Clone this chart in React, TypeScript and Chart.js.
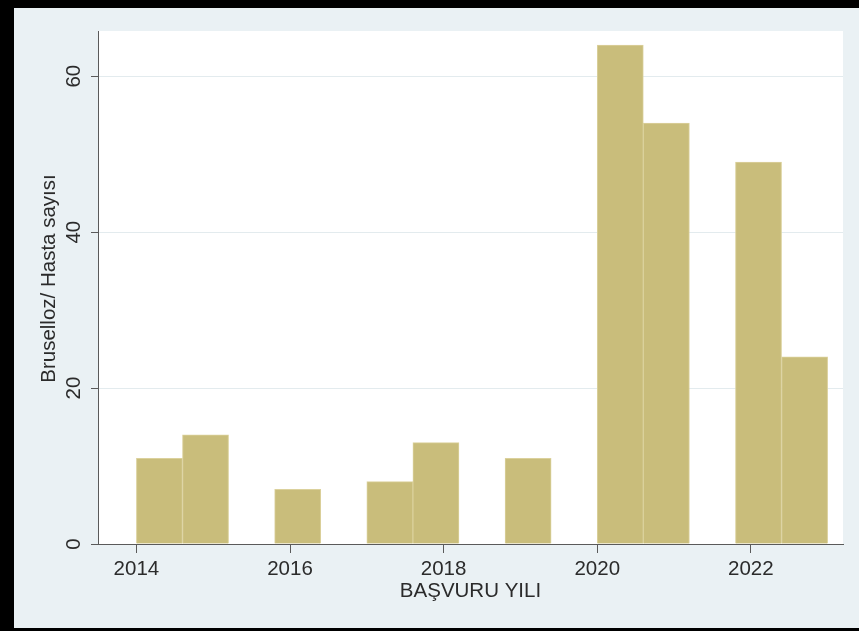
import React, { useEffect, useRef } from 'react';
import { Chart, registerables } from 'chart.js';

Chart.register(...registerables);

// Histogram bins (bin centres, width 0.6 years) and patient counts
const binCenters = [2014.3, 2014.9, 2015.5, 2016.1, 2016.7, 2017.3, 2017.9, 2018.5, 2019.1, 2019.7, 2020.3, 2020.9, 2021.5, 2022.1, 2022.7];
const patientCounts = [11, 14, 0, 7, 0, 8, 13, 0, 11, 0, 64, 54, 0, 49, 24];
const xTickValues = [2014, 2016, 2018, 2020, 2022];
const yTickValues = [0, 20, 40, 60];
const xTitle = 'BAŞVURU YILI';
const yTitle = 'Bruselloz/ Hasta sayısı';

const FONT = '"Liberation Sans", Arial, Helvetica, sans-serif';
const FONT_SIZE = 20.5;
const TEXT_COLOR = '#2b2b2b';
const AXIS_COLOR = '#5a5a5a';
const BAR_COLOR = '#c9bd7b';
const BAR_EDGE = '#dbd19c';
const OUTER_BG = '#eaf1f4';

const framePlugin = {
  id: 'stataFrame',
  beforeDraw(chart: any) {
    const { ctx, chartArea, width, height } = chart;
    ctx.save();
    ctx.fillStyle = '#000000';
    ctx.fillRect(0, 0, width, height);
    ctx.fillStyle = OUTER_BG;
    ctx.fillRect(14, 8, width - 14, 620);
    ctx.fillStyle = '#ffffff';
    ctx.fillRect(chartArea.left, chartArea.top, chartArea.right - chartArea.left, chartArea.bottom - chartArea.top);
    ctx.restore();
  },
  afterDraw(chart: any) {
    const { ctx, chartArea } = chart;
    const y = chart.scales.y;
    ctx.save();
    ctx.font = `${FONT_SIZE}px ${FONT}`;
    ctx.fillStyle = TEXT_COLOR;
    ctx.textAlign = 'center';
    ctx.textBaseline = 'middle';
    y.ticks.forEach((t: any) => {
      const py = y.getPixelForValue(t.value);
      ctx.save();
      ctx.translate(74, py);
      ctx.rotate(-Math.PI / 2);
      ctx.fillText(String(t.value), 0, 0);
      ctx.restore();
    });
    ctx.save();
    ctx.translate(49, (chartArea.top + chartArea.bottom) / 2 - 9);
    ctx.rotate(-Math.PI / 2);
    ctx.fillText(yTitle, 0, 0);
    ctx.restore();
    ctx.restore();
  },
};

export default function App() {
  const canvasRef = useRef<HTMLCanvasElement | null>(null);

  useEffect(() => {
    document.body.style.margin = '0';
    const canvas = canvasRef.current;
    if (!canvas) return;
    const chart = new Chart(canvas, {
      type: 'bar',
      data: {
        datasets: [
          {
            data: binCenters.map((x, i) => ({ x, y: patientCounts[i] })),
            backgroundColor: BAR_COLOR,
            borderColor: BAR_EDGE,
            borderWidth: 1,
            barPercentage: 1,
            categoryPercentage: 1,
          },
        ],
      },
      options: {
        animation: false,
        responsive: false,
        devicePixelRatio: 1,
        events: [],
        layout: { padding: { left: 0, top: 31, right: 16, bottom: 0 } },
        plugins: {
          legend: { display: false },
          tooltip: { enabled: false },
        },
        scales: {
          x: {
            type: 'linear',
            min: 2013.5,
            max: 2023.2,
            offset: false,
            afterBuildTicks: (scale: any) => {
              scale.ticks = xTickValues.map((v) => ({ value: v }));
            },
            afterFit: (scale: any) => {
              scale.height = 87;
            },
            ticks: {
              autoSkip: false,
              maxRotation: 0,
              minRotation: 0,
              padding: 4,
              color: TEXT_COLOR,
              font: { family: FONT, size: FONT_SIZE },
              callback: (v: any) => String(v),
            },
            grid: {
              offset: false,
              drawOnChartArea: false,
              drawTicks: true,
              tickLength: 9,
              color: AXIS_COLOR,
              tickColor: AXIS_COLOR,
            },
            border: { display: true, color: AXIS_COLOR, width: 1 },
            title: {
              display: true,
              text: xTitle,
              color: TEXT_COLOR,
              font: { family: FONT, size: FONT_SIZE },
              padding: { top: 0, bottom: 27 },
            },
          },
          y: {
            type: 'linear',
            min: 0,
            max: 65.8,
            afterBuildTicks: (scale: any) => {
              scale.ticks = yTickValues.map((v) => ({ value: v }));
            },
            afterFit: (scale: any) => {
              scale.width = 98;
            },
            ticks: { display: false },
            grid: {
              drawTicks: true,
              tickLength: 7,
              color: (c: any) => (c.tick && c.tick.value === 0 ? 'rgba(0,0,0,0)' : '#e3ebee'),
              tickColor: AXIS_COLOR,
              lineWidth: 1,
            },
            border: { display: true, color: AXIS_COLOR, width: 1 },
            title: { display: false },
          },
        },
      },
      plugins: [framePlugin],
    } as any);
    return () => chart.destroy();
  }, []);

  return (
    <div style={{ width: 859, height: 631, position: 'relative' }}>
      <canvas ref={canvasRef} width={859} height={631} style={{ display: 'block', width: 859, height: 631 }} />
    </div>
  );
}
